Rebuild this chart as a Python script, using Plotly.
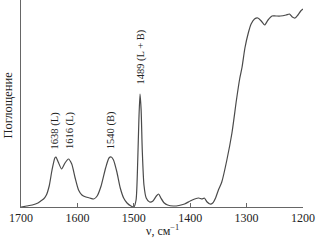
import plotly.graph_objects as go

# wavenumber (cm^-1) and absorbance (arbitrary units)
wavenumber = [1700, 1690, 1680, 1670, 1665, 1660, 1655, 1650, 1645, 1640, 1638, 1634, 1628,
              1622, 1616, 1610, 1604, 1598, 1592, 1585, 1578, 1571, 1565, 1558, 1550, 1544,
              1540, 1536, 1530, 1524, 1518, 1512, 1505, 1500, 1496, 1493, 1491, 1489, 1487,
              1485, 1482, 1478, 1472, 1466, 1460, 1456, 1452, 1446, 1440, 1430, 1420, 1410,
              1400, 1392, 1385, 1379, 1375, 1370, 1365, 1360, 1355, 1350, 1344, 1335, 1326,
              1318, 1312, 1308, 1303, 1297, 1292, 1286, 1280, 1274, 1268, 1262, 1255, 1248,
              1240, 1230, 1224, 1219, 1214, 1209, 1204, 1200]
absorbance = [0, 1, 2, 4, 6, 8, 12, 21, 37, 49, 50, 45, 38,
              44, 48, 43, 29, 17, 12, 10, 9, 8, 11, 21, 39, 49,
              50, 47, 35, 19, 9, 4, 1, 0, 7, 47, 87, 113, 97,
              57, 22, 9, 5, 6, 11, 13, 9, 4, 2, 1, 1.5, 3,
              6, 8, 9, 8, 9, 5, 3, 4, 9, 17, 25, 47, 74,
              107, 129, 140, 159, 174, 183, 188, 189, 186, 182, 187, 191, 191,
              191, 192, 193, 190, 189, 192, 196, 198]

labels = ["1638 (L)", "1616 (L)", "1540 (B)", "1489 (L + B)"]
label_x = [1639, 1613, 1540, 1489]
label_y = [56, 56, 56, 120]

serif = "Liberation Serif, Times New Roman, serif"
txt = "#222222"

fig = go.Figure()
fig.add_trace(go.Scatter(x=wavenumber, y=absorbance, mode="lines",
                         line=dict(color="#4a4a4a", width=1.2, shape="spline", smoothing=0.6),
                         hoverinfo="skip", showlegend=False))

for t, x, y in zip(labels, label_x, label_y):
    fig.add_annotation(x=x, y=y, text=t, textangle=-90, showarrow=False,
                       xanchor="center", yanchor="bottom",
                       font=dict(family=serif, size=10.5, color=txt))

fig.add_annotation(xref="paper", yref="paper", x=-0.046, y=0.49, text="Поглощение",
                   textangle=-90, showarrow=False, xanchor="center", yanchor="middle",
                   font=dict(family=serif, size=12.5, color=txt))
fig.add_annotation(xref="paper", yref="paper", x=0.5, y=-0.113, text="ν, см<sup>−1</sup>",
                   showarrow=False, xanchor="center", yanchor="middle",
                   font=dict(family=serif, size=12, color=txt))

fig.update_layout(
    width=317, height=245,
    margin=dict(l=21, r=14, t=0, b=38),
    paper_bgcolor="white", plot_bgcolor="white",
    font=dict(family=serif, size=12, color=txt),
    xaxis=dict(range=[1700, 1200], tickvals=[1700, 1600, 1500, 1400, 1300, 1200],
               showgrid=False, zeroline=False, showline=True, linecolor="#666666", linewidth=1,
               ticks="inside", ticklen=4, tickcolor="#666666",
               tickfont=dict(family=serif, size=12, color=txt)),
    yaxis=dict(range=[0, 207], showgrid=False, zeroline=False, showline=True,
               linecolor="#666666", linewidth=1, showticklabels=False, ticks=""),
)

fig.write_html("out.html")
